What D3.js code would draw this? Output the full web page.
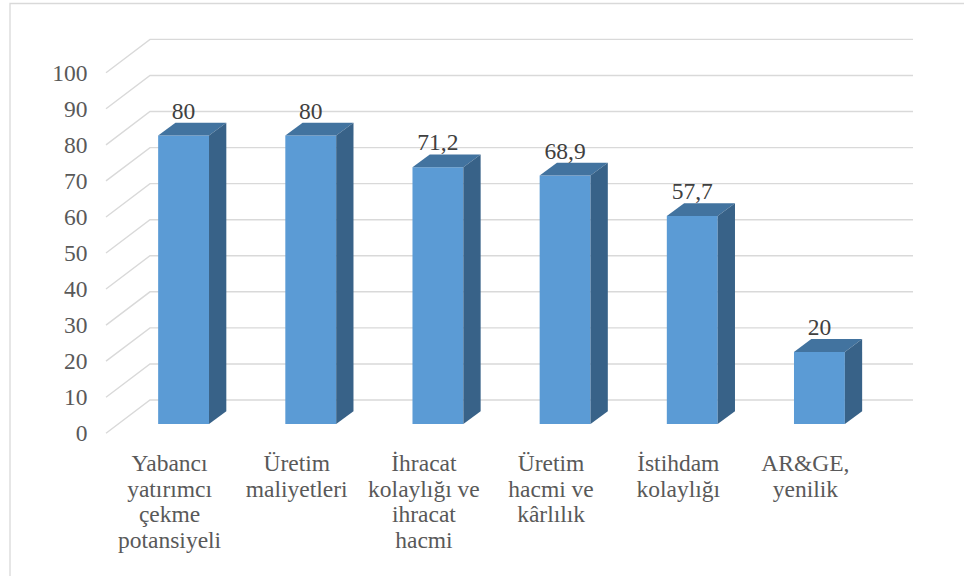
<!DOCTYPE html>
<html>
<head>
<meta charset="utf-8">
<script src="https://cdn.jsdelivr.net/npm/d3@7"></script>
<style>
    text, tspan { font-family: 'Liberation Serif' !important; }
</style>
</head>
<body style="margin:0; background:#fff">
<svg id="chart" width="964" height="576" style="font-family: 'Liberation Serif'"></svg>
<script>
/* ------------------------- DATA ------------------------- */

let categories = [
    ["Yabancı", "yatırımcı", "çekme", "potansiyeli"],
    ["Üretim", "maliyetleri"],
    ["İhracat", "kolaylığı ve", "ihracat", "hacmi"],
    ["Üretim", "hacmi ve", "kârlılık"],
    ["İstihdam", "kolaylığı"],
    ["AR&GE,", "yenilik"]
]
let values = [80, 80, 71.2, 68.9, 57.7, 20]
let valueLabels = ["80", "80", "71,2", "68,9", "57,7", "20"]
let ticks = [0, 10, 20, 30, 40, 50, 60, 70, 80, 90, 100]

/* ------------------------- GEOMETRY ------------------------- */

let svg = d3.select("#chart")
let FONT = "'Liberation Serif'"

let wallDx = 44, wallDy = -33.3        // profondità della parete di fondo
let barOffX = 14, barOffY = -9.3       // posizione della faccia frontale della barra
let barDx = 17.3, barDy = -12.8        // spessore della barra

let ids = categories.map(function (d, i) { return i })

let x = d3.scaleBand().domain(ids).range([106, 869])
let y = d3.scaleLinear().domain([0, 100]).range([433.3, 72.7])

let barW = x.bandwidth() * 0.4

function serif(sel, size, color) {
    sel.attr("font-family", "Liberation Serif")
        .style("font-family", FONT, "important")
        .style("font-size", size)
        .style("fill", color)
}

/* ------------------------- BORDER ------------------------- */

svg.append("path")
    .attr("d", "M10,576 L10,3.5 L964,3.5")
    .attr("fill", "none")
    .attr("stroke", "#d9d9d9")
    .attr("stroke-width", 1.3)

/* ------------------------- GRIDLINES ------------------------- */

svg.append("g")
    .selectAll("path")
    .data(ticks)
    .enter().append("path")
        .attr("d", function (t) {
            let yf = y(t)
            return "M" + x.range()[0] + "," + yf +
                " L" + (x.range()[0] + wallDx) + "," + (yf + wallDy) +
                " L" + (x.range()[1] + wallDx) + "," + (yf + wallDy)
        })
        .attr("fill", "none")
        .attr("stroke", "#d9d9d9")
        .attr("stroke-width", 1.4)

svg.append("g")
    .selectAll("text")
    .data(ticks)
    .enter().append("text")
        .attr("x", 87.5)
        .attr("y", function (t) { return y(t) })
        .attr("dy", "0.34em")
        .attr("text-anchor", "end")
        .call(serif, "23.5px", "#595959")
        .text(function (t) { return t })

/* ------------------------- BARS ------------------------- */

let bars = svg.append("g")
    .selectAll("g")
    .data(values)
    .enter().append("g")

function frontLeft(i) { return x(i) + x.bandwidth() / 2 - barW / 2 + barOffX }

bars.append("rect")
    .attr("x", function (d, i) { return frontLeft(i) })
    .attr("y", function (d) { return y(d) + barOffY })
    .attr("width", barW)
    .attr("height", function (d) { return y(0) - y(d) })
    .attr("fill", "#5b9bd5")

bars.append("path")   // faccia superiore
    .attr("d", function (d, i) {
        let x0 = frontLeft(i), y0 = y(d) + barOffY
        return "M" + x0 + "," + y0 + " L" + (x0 + barW) + "," + y0 +
            " L" + (x0 + barW + barDx) + "," + (y0 + barDy) +
            " L" + (x0 + barDx) + "," + (y0 + barDy) + " Z"
    })
    .attr("fill", "#42739f")

bars.append("path")   // faccia laterale
    .attr("d", function (d, i) {
        let x1 = frontLeft(i) + barW, yt = y(d) + barOffY, yb = y(0) + barOffY
        return "M" + x1 + "," + yt + " L" + (x1 + barDx) + "," + (yt + barDy) +
            " L" + (x1 + barDx) + "," + (yb + barDy) +
            " L" + x1 + "," + yb + " Z"
    })
    .attr("fill", "#386288")

bars.append("text")
    .attr("x", function (d, i) { return frontLeft(i) + barW / 2 })
    .attr("y", function (d) { return y(d) + barOffY + barDy - 4.2 })
    .attr("text-anchor", "middle")
    .call(serif, "23.5px", "#404040")
    .text(function (d, i) { return valueLabels[i] })

/* ------------------------- CATEGORY LABELS ------------------------- */

let catLabels = svg.append("g")
    .selectAll("text")
    .data(categories)
    .enter().append("text")
        .attr("text-anchor", "middle")
        .call(serif, "23.5px", "#595959")

catLabels.selectAll("tspan")
    .data(function (d, i) { return d.map(function (line) { return { line: line, i: i } }) })
    .enter().append("tspan")
        .attr("x", function (d) { return x(d.i) + x.bandwidth() / 2 })
        .attr("y", function (d, j) { return 470.7 + j * 25.8 })
        .style("font-family", FONT, "important")
        .text(function (d) { return d.line })
</script>
</body>
</html>
